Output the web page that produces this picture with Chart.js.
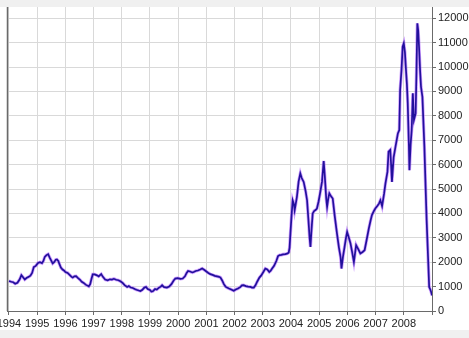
<!DOCTYPE html>
<html>
<head>
<meta charset="utf-8">
<script src="https://cdn.jsdelivr.net/npm/chart.js@4"></script>
<style>
  html, body { margin: 0; padding: 0; background: #fff; }
  #wrap { width: 469px; height: 338px; position: relative; }
</style>
</head>
<body>
<div id="wrap"><canvas id="chart" width="469" height="338"></canvas></div>
<script>
// decimal years and index values
const years = [
  1994.00, 1994.08, 1994.15, 1994.22, 1994.30, 1994.38, 1994.44, 1994.50, 1994.56, 1994.62,
  1994.70, 1994.76, 1994.82, 1994.88, 1994.95, 1995.03, 1995.10, 1995.17, 1995.22, 1995.27,
  1995.33, 1995.39, 1995.44, 1995.48, 1995.55, 1995.60, 1995.66, 1995.70, 1995.75, 1995.78,
  1995.84, 1995.90, 1995.96, 1996.00, 1996.08, 1996.15, 1996.22, 1996.26, 1996.32, 1996.38,
  1996.45, 1996.52, 1996.58, 1996.65, 1996.72, 1996.78, 1996.83, 1996.88, 1996.92, 1996.97,
  1997.04, 1997.12, 1997.18, 1997.27, 1997.33, 1997.41, 1997.50, 1997.58, 1997.65, 1997.72,
  1997.80, 1997.88, 1997.95, 1998.03, 1998.10, 1998.19, 1998.25, 1998.32, 1998.39, 1998.46,
  1998.52, 1998.60, 1998.66, 1998.72, 1998.80, 1998.86, 1998.92, 1999.00, 1999.05, 1999.10,
  1999.18, 1999.24, 1999.31, 1999.38, 1999.43, 1999.50, 1999.60, 1999.68, 1999.76, 1999.84,
  1999.90, 1999.98, 2000.08, 2000.16, 2000.24, 2000.30, 2000.35, 2000.42, 2000.50, 2000.55,
  2000.62, 2000.70, 2000.78, 2000.85, 2000.92, 2001.00, 2001.07, 2001.14, 2001.22, 2001.30,
  2001.38, 2001.45, 2001.50, 2001.56, 2001.62, 2001.68, 2001.73, 2001.80, 2001.88, 2001.97,
  2002.04, 2002.12, 2002.20, 2002.26, 2002.32, 2002.40, 2002.48, 2002.56, 2002.62, 2002.68,
  2002.74, 2002.80, 2002.88, 2002.94, 2003.02, 2003.09, 2003.16, 2003.23, 2003.28, 2003.33,
  2003.40, 2003.48, 2003.54, 2003.60, 2003.66, 2003.72, 2003.80, 2003.88, 2003.92, 2003.95,
  2003.98, 2004.02, 2004.06, 2004.10, 2004.13, 2004.17, 2004.21, 2004.27, 2004.33, 2004.38,
  2004.45, 2004.52, 2004.57, 2004.62, 2004.66, 2004.69, 2004.72, 2004.77, 2004.82, 2004.88,
  2004.92, 2004.98, 2005.04, 2005.10, 2005.16, 2005.20, 2005.25, 2005.28, 2005.32, 2005.36,
  2005.42, 2005.48, 2005.55, 2005.63, 2005.70, 2005.76, 2005.79, 2005.84, 2005.90, 2005.95,
  2005.99, 2006.04, 2006.11, 2006.17, 2006.23, 2006.27, 2006.31, 2006.38, 2006.46, 2006.54,
  2006.61, 2006.68, 2006.76, 2006.82, 2006.87, 2006.94, 2006.99, 2007.06, 2007.12, 2007.17,
  2007.23, 2007.30, 2007.35, 2007.42, 2007.46, 2007.52, 2007.55, 2007.58, 2007.64, 2007.70,
  2007.79, 2007.84, 2007.87, 2007.92, 2007.96, 2008.00, 2008.04, 2008.07, 2008.11, 2008.14,
  2008.18, 2008.20, 2008.24, 2008.28, 2008.32, 2008.36, 2008.42, 2008.45, 2008.48, 2008.51,
  2008.54, 2008.58, 2008.61, 2008.66, 2008.70, 2008.73, 2008.77, 2008.81, 2008.86, 2008.90,
  2008.94, 2008.97, 2009.00
];
const values = [
  1230, 1200, 1180, 1120, 1160, 1300, 1465, 1380, 1290, 1350,
  1400, 1450, 1560, 1800, 1850, 1970, 2000, 1960, 2050, 2220,
  2290, 2330, 2200, 2110, 1950, 2000, 2100, 2110, 2050, 1950,
  1780, 1700, 1650, 1600, 1560, 1480, 1400, 1370, 1420, 1430,
  1350, 1280, 1200, 1150, 1080, 1040, 1010, 1100, 1290, 1500,
  1500, 1460, 1420, 1510, 1400, 1290, 1260, 1300, 1290, 1320,
  1280, 1260, 1220, 1150, 1060, 985, 1020, 960, 944, 900,
  870, 840, 820, 860, 960, 985, 900, 860, 800, 810,
  900, 880, 950, 1000, 1055, 980, 960, 1000, 1100, 1250,
  1330, 1350, 1320, 1330, 1420, 1560, 1640, 1620, 1580, 1600,
  1640, 1660, 1700, 1740, 1690, 1620, 1560, 1510, 1480, 1440,
  1420, 1400, 1370, 1250, 1100, 1000, 960, 920, 880, 830,
  880, 920, 980, 1050, 1060, 1020, 1000, 990, 960, 960,
  1050, 1200, 1370, 1450, 1600, 1740, 1700, 1600, 1650, 1740,
  1850, 2050, 2250, 2290, 2300, 2320, 2330, 2360, 2400, 2600,
  3180, 3900, 4540, 4400, 4130, 4400, 4680, 5300, 5640, 5450,
  5290, 4900, 4540, 3700, 3000, 2630, 3200, 4000, 4100, 4150,
  4200, 4500, 4880, 5300, 6150, 5500, 4600, 4270, 4600, 4820,
  4700, 4610, 3900, 3180, 2600, 2200, 1740, 2200, 2630, 3000,
  3240, 3050, 2770, 2400, 2010, 2350, 2700, 2550, 2360, 2420,
  2490, 2900, 3380, 3700, 3930, 4100, 4200, 4300, 4400, 4540,
  4300, 4800, 5230, 5700, 6530, 6600, 6000, 5290, 6300, 6700,
  7280, 7420, 9060, 9900, 10830, 10970, 10600, 10010, 9300, 8510,
  6800, 5770, 6800, 7420, 8920, 7830, 8100, 9800, 11790, 11500,
  10830, 9800, 9190, 8780, 7600, 6730, 5200, 3720, 2200, 985,
  880, 780, 640
];
const yearLabels = ["1994", "1995", "1996", "1997", "1998", "1999", "2000", "2001",
  "2002", "2003", "2004", "2005", "2006", "2007", "2008"];
const xTicks = [1994, 1995, 1996, 1997, 1998, 1999, 2000, 2001, 2002, 2003, 2004,
  2005, 2006, 2007, 2008, 2009];
const yTicks = [0, 1000, 2000, 3000, 4000, 5000, 6000, 7000, 8000, 9000, 10000, 11000, 12000];

const points = years.map((x, i) => ({ x: x, y: values[i] }));

// grey bands above and below the plot, dark line on the left edge
const frame = {
  id: "frame",
  beforeDraw(chart) {
    const c = chart.ctx;
    c.save();
    c.fillStyle = "#ffffff";
    c.fillRect(0, 0, chart.width, chart.height);
    c.fillStyle = "#f0f0f0";
    c.fillRect(0, 0, chart.width, 7);
    c.fillRect(0, 330, chart.width, chart.height - 330);
    c.restore();
  },
  afterDraw(chart) {
    const a = chart.chartArea;
    const c = chart.ctx;
    c.save();
    c.strokeStyle = "#6a6a6a";
    c.lineWidth = 1.5;
    c.beginPath();
    c.moveTo(a.left + 0.5, a.top);
    c.lineTo(a.left + 0.5, a.bottom);
    c.stroke();
    c.restore();
  }
};

Chart.defaults.font.family = "'Liberation Sans', Arial, sans-serif";
Chart.defaults.font.size = 11;
Chart.defaults.color = "#222";

new Chart(document.getElementById("chart"), {
  type: "line",
  data: {
    datasets: [
      {
        data: points,
        borderColor: "#22109c",
        borderWidth: 1.7,
        pointRadius: 0,
        tension: 0,
        order: 0
      },
      {
        data: points,
        borderColor: "rgba(165, 80, 255, 0.55)",
        borderWidth: 3.2,
        pointRadius: 0,
        tension: 0,
        order: 1
      }
    ]
  },
  options: {
    responsive: false,
    animation: false,
    layout: { autoPadding: false, padding: { top: 7, left: 7, right: 0, bottom: 0 } },
    plugins: { legend: { display: false }, tooltip: { enabled: false } },
    scales: {
      x: {
        type: "linear",
        min: 1993.93,
        max: 2009,
        afterFit: (s) => {
          s.height = 27;
          s.paddingLeft = 7;
          s.paddingRight = 0;
        },
        afterBuildTicks: (s) => { s.ticks = xTicks.map((v) => ({ value: v })); },
        ticks: {
          autoSkip: false,
          maxRotation: 0,
          padding: 2,
          callback: (v) => yearLabels[Math.round(v) - 1994] || ""
        },
        grid: { color: "#d9d9d9", tickColor: "#6a6a6a", tickLength: 4 },
        border: { color: "#6a6a6a" }
      },
      y: {
        position: "right",
        min: 0,
        max: 12460,
        afterFit: (s) => {
          s.width = 37;
          s.paddingTop = 0;
          s.paddingBottom = 0;
        },
        afterBuildTicks: (s) => { s.ticks = yTicks.map((v) => ({ value: v })); },
        ticks: { autoSkip: false, padding: 2, callback: (v) => String(v) },
        grid: { color: "#d9d9d9", tickColor: "#6a6a6a", tickLength: 4 },
        border: { color: "#6a6a6a" }
      }
    }
  },
  plugins: [frame]
});
</script>
</body>
</html>
